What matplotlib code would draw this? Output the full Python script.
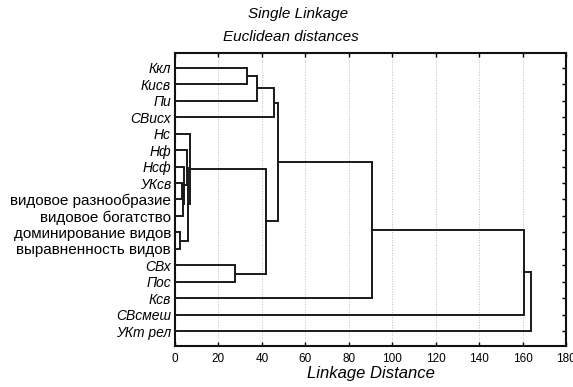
import matplotlib
matplotlib.use('Agg')
import matplotlib.pyplot as plt

plt.rcParams['font.family'] = ['Liberation Sans', 'DejaVu Sans']

# leaves, top to bottom
labels = ['Ккл', 'Кисв', 'Пи', 'СВисх', 'Нс', 'Нф', 'Нсф', 'УКсв',
          'видовое разнообразие', 'видовое богатство',
          'доминирование видов', 'выравненность видов',
          'СВх', 'Пос', 'Ксв', 'СВсмеш', 'УКт рел']
upright = ['видовое разнообразие', 'видовое богатство',
           'доминирование видов', 'выравненность видов']

# merges: child a, child b (leaf index or 17+ cluster index), linkage distance
merge_a = [0, 17, 18, 7, 20, 6, 5, 10, 23, 4, 12, 26, 19, 29, 30, 31]
merge_b = [1, 2, 3, 8, 9, 21, 22, 11, 24, 25, 13, 27, 28, 14, 15, 16]
merge_h = [33.3, 37.6, 45.8, 3.4, 3.8, 4.2, 5.4, 2.4, 6.1, 6.8,
           27.6, 41.8, 47.6, 90.6, 160.6, 164.1]

xticks = [0, 20, 40, 60, 80, 100, 120, 140, 160, 180]

fig = plt.figure(figsize=(5.73, 3.87), dpi=100)
ax = fig.add_axes([175 / 573, 1 - 346 / 387, 391 / 573, 293 / 387])

n = len(labels)
ypos = {i: i + 1 for i in range(n)}
hpos = {i: 0.0 for i in range(n)}
for k, (a, b, h) in enumerate(zip(merge_a, merge_b, merge_h)):
    ya, yb = ypos[a], ypos[b]
    ax.plot([hpos[a], h, h, hpos[b]], [ya, ya, yb, yb],
            color='#1a1a1a', lw=1.4, solid_joinstyle='miter', zorder=3)
    ypos[n + k] = (ya + yb) / 2
    hpos[n + k] = h

ax.set_xlim(0, 180)
ax.set_ylim(n + 0.9, 0.1)
ax.set_xticks(xticks)
ax.set_xticklabels([str(t) for t in xticks], fontsize=8.5)
ax.set_yticks(range(1, n + 1))
ax.set_yticklabels(labels, fontsize=10)
for t in ax.get_yticklabels():
    if t.get_text() in upright:
        t.set_fontsize(11)
    else:
        t.set_fontstyle('italic')

ax.tick_params(axis='x', direction='in', length=3, width=1, top=True, pad=5)
ax.tick_params(axis='y', direction='in', length=3, width=1,
               left=False, right=True, pad=3)
ax.grid(axis='x', color='#bbbbbb', linestyle=':', lw=0.7)
for s in ax.spines.values():
    s.set_linewidth(1.5)
    s.set_color('#111111')

ax.set_xlabel('Linkage Distance', fontsize=12, fontstyle='italic', labelpad=1)
fig.text(0.52, 0.965, 'Single Linkage', ha='center', va='center',
         fontsize=11, fontstyle='italic')
fig.text(0.507, 0.905, 'Euclidean distances', ha='center', va='center',
         fontsize=11, fontstyle='italic')

fig.savefig('out.png', dpi=100)
